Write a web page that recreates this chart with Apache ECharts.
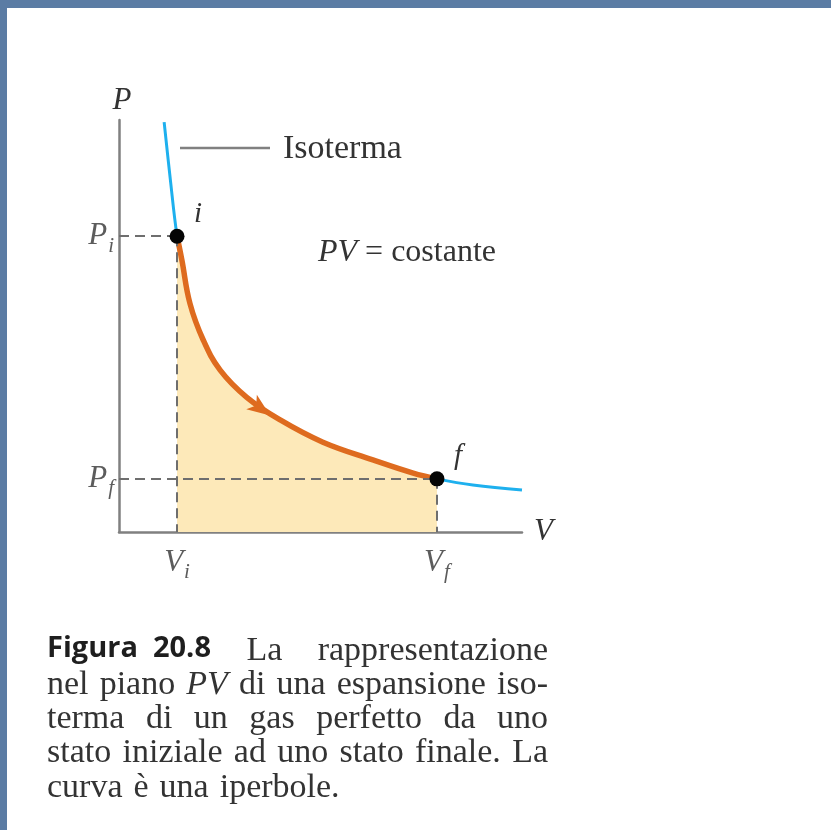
<!DOCTYPE html>
<html>
<head>
<meta charset="utf-8">
<script src="https://cdn.jsdelivr.net/npm/echarts@6/dist/echarts.min.js"></script>
<style>
  html, body { margin: 0; padding: 0; background: #5b7ca4; }
  #panel { position: absolute; left: 7px; top: 8px; right: 0; bottom: 0; background: #fff; }
  #chart { position: absolute; left: 0; top: 0; width: 831px; height: 830px; }
</style>
</head>
<body>
<div id="panel"></div>
<div id="chart"></div>
<script>
// Isotherm (V, P in arbitrary units, axes 0..100).
const isothermV = [11.2, 12.7, 14.4, 15.6, 17.6, 20.9, 25.1, 31.7, 40.0, 50.6, 63.0, 73.0, 78.9, 87.8, 100];
const isothermP = [99.5, 85.9, 71.8, 66.0, 55.5, 46.6, 39.3, 32.7, 27.2, 21.8, 17.5, 14.3, 12.9, 11.4, 10.2];

// The expansion i -> f (orange part of the curve).
const processV = [14.4, 15.6, 17.6, 20.9, 25.1, 31.7, 40.0, 50.6, 63.0, 73.0, 78.9];
const processP = [71.8, 66.0, 55.5, 46.6, 39.3, 32.7, 27.2, 21.8, 17.5, 14.3, 12.9];

const stateNames = ['i', 'f'];
const stateV = [14.4, 78.9];
const stateP = [71.8, 12.9];

// Direction arrow on the process curve.
const arrowV = [35.2];
const arrowP = [29.9];

// Axis labels: P_i, P_f on the P axis, V_i, V_f on the V axis.
const tickMain = ['P', 'P', 'V', 'V'];
const tickSub = ['i', 'f', 'i', 'f'];
const tickV = [0, 0, 14.4, 78.9];
const tickP = [71.8, 12.9, 0, 0];

const caption = [
  ['Figura  20.8', 'La', 'rappresentazione'],
  ['nel', 'piano', 'PV', 'di', 'una', 'espansione', 'iso-'],
  ['terma', 'di', 'un', 'gas', 'perfetto', 'da', 'uno'],
  ['stato', 'iniziale', 'ad', 'uno', 'stato', 'finale.', 'La'],
  ['curva', 'è', 'una', 'iperbole.'],
];

const SERIF = '"Liberation Serif", "DejaVu Serif", serif';
const SANS = '"Open Sans", "Noto Sans", sans-serif';
const TEXT = '#333';

const pairs = (xs, ys) => xs.map((x, i) => [x, ys[i]]);

// --- caption layout: justified lines between two margins ---
const CAP_LEFT = 47, CAP_RIGHT = 548;
const CAP_BASE = [634, 668, 702, 736, 771];
const CAP_SIZE = 34;
const measureCtx = document.createElement('canvas').getContext('2d');

function wordFont(line, w) {
  if (line === 0 && w.startsWith('Figura')) {
    return { font: `bold 29px ${SANS}`, style: { fontFamily: SANS, fontWeight: 'bold', fontSize: 29, fill: '#1e1e1e' } };
  }
  if (w === 'PV') {
    return { font: `italic ${CAP_SIZE}px ${SERIF}`, style: { fontFamily: SERIF, fontStyle: 'italic', fontSize: CAP_SIZE, fill: TEXT } };
  }
  return { font: `${CAP_SIZE}px ${SERIF}`, style: { fontFamily: SERIF, fontSize: CAP_SIZE, fill: TEXT } };
}

function captionGraphics() {
  const out = [];
  caption.forEach((words, li) => {
    const info = words.map(w => {
      const f = wordFont(li, w);
      measureCtx.font = f.font;
      return { w, width: measureCtx.measureText(w).width, style: f.style };
    });
    const total = info.reduce((s, d) => s + d.width, 0);
    const last = li === caption.length - 1;
    const gap = last ? 11 : (CAP_RIGHT - CAP_LEFT - total) / (words.length - 1);
    let x = CAP_LEFT;
    info.forEach(d => {
      out.push({
        type: 'text', x, y: CAP_BASE[li],
        style: Object.assign({ text: d.w, align: 'left', verticalAlign: 'alphabetic' }, d.style),
      });
      x += d.width + gap;
    });
  });
  return out;
}

const subRich = {
  m: { fontFamily: SERIF, fontStyle: 'italic', fontSize: 31, color: TEXT },
  s: { fontFamily: SERIF, fontStyle: 'italic', fontSize: 21, color: TEXT, padding: [20, 0, 0, 1] },
};

const chart = echarts.init(document.getElementById('chart'));

chart.setOption({
  animation: false,
  grid: { left: 119, top: 120, width: 403, height: 412 },
  xAxis: {
    type: 'value', min: 0, max: 100,
    axisLine: { lineStyle: { color: '#808080', width: 2.5 } },
    axisTick: { show: false }, axisLabel: { show: false }, splitLine: { show: false },
    name: 'V', nameLocation: 'end', nameGap: 12,
    nameTextStyle: { fontFamily: SERIF, fontStyle: 'italic', fontSize: 31, color: TEXT },
  },
  yAxis: {
    type: 'value', min: 0, max: 100,
    axisLine: { lineStyle: { color: '#808080', width: 2.5 } },
    axisTick: { show: false }, axisLabel: { show: false }, splitLine: { show: false },
    name: 'P', nameLocation: 'end', nameGap: 4,
    nameTextStyle: { fontFamily: SERIF, fontStyle: 'italic', fontSize: 31, color: TEXT, align: 'center', padding: [0, 0, 0, 6] },
  },
  series: [
    {
      name: 'work', type: 'line', data: pairs(processV, processP),
      smooth: 0.4, symbol: 'none',
      lineStyle: { width: 0 }, areaStyle: { color: '#fde9b9', opacity: 1 }, z: 1,
    },
    {
      name: 'guides', type: 'scatter', data: pairs(stateV, stateP), symbolSize: 0, z: 2,
      markLine: {
        silent: true, symbol: 'none', animation: false,
        label: { show: false },
        lineStyle: { type: [10, 6], color: '#6e6e6e', width: 2 },
        data: [
          [{ coord: [0, stateP[0]] }, { coord: [stateV[0], stateP[0]] }],
          [{ coord: [stateV[0], stateP[0]] }, { coord: [stateV[0], 0] }],
          [{ coord: [0, stateP[1]] }, { coord: [stateV[1], stateP[1]] }],
          [{ coord: [stateV[1], stateP[1]] }, { coord: [stateV[1], 0] }],
        ],
      },
    },
    {
      name: 'isotherm', type: 'line', data: pairs(isothermV, isothermP),
      smooth: 0.4, symbol: 'none',
      lineStyle: { color: '#1eb0ee', width: 3 }, z: 3,
    },
    {
      name: 'process', type: 'line', data: pairs(processV, processP),
      smooth: 0.4, symbol: 'none',
      lineStyle: { color: '#de6b1f', width: 5.5 }, z: 4,
    },
    {
      name: 'arrow', type: 'scatter', data: pairs(arrowV, arrowP),
      symbol: 'path://M0,0 L20,8 L0,16 L5,8 Z', symbolSize: [23, 18], symbolRotate: -36,
      itemStyle: { color: '#de6b1f', opacity: 1 }, z: 5,
    },
    {
      name: 'states', type: 'scatter',
      data: stateNames.map((n, i) => ({ name: n, value: [stateV[i], stateP[i]] })),
      symbolSize: 15, itemStyle: { color: '#050505', opacity: 1 }, z: 6,
      label: {
        show: true, position: 'inside', offset: [21, -22], formatter: p => p.name,
        fontFamily: SERIF, fontStyle: 'italic', fontSize: 29, color: TEXT,
      },
    },
    {
      name: 'ticks', type: 'scatter', symbolSize: 0, z: 6,
      data: tickMain.map((m, i) => ({
        value: [tickV[i], tickP[i]],
        label: i < 2
          ? { position: 'left', distance: 5 }
          : { position: 'bottom', distance: 10 },
        main: m, sub: tickSub[i],
      })),
      label: {
        show: true,
        formatter: p => `{m|${p.data.main}}{s|${p.data.sub}}`,
        rich: subRich,
      },
    },
  ],
  graphic: [
    { type: 'line', shape: { x1: 180, y1: 148, x2: 270, y2: 148 }, style: { stroke: '#808080', lineWidth: 2.5 } },
    { type: 'text', x: 283, y: 149, style: { text: 'Isoterma', fontFamily: SERIF, fontSize: 34, fill: TEXT, verticalAlign: 'middle' } },
    {
      type: 'text', x: 318, y: 253,
      style: {
        text: '{it|PV} = costante', verticalAlign: 'middle',
        fontFamily: SERIF, fontSize: 32, fill: TEXT,
        rich: { it: { fontFamily: SERIF, fontStyle: 'italic', fontSize: 32, fill: TEXT } },
      },
    },
    ...captionGraphics(),
  ],
});
</script>
</body>
</html>
